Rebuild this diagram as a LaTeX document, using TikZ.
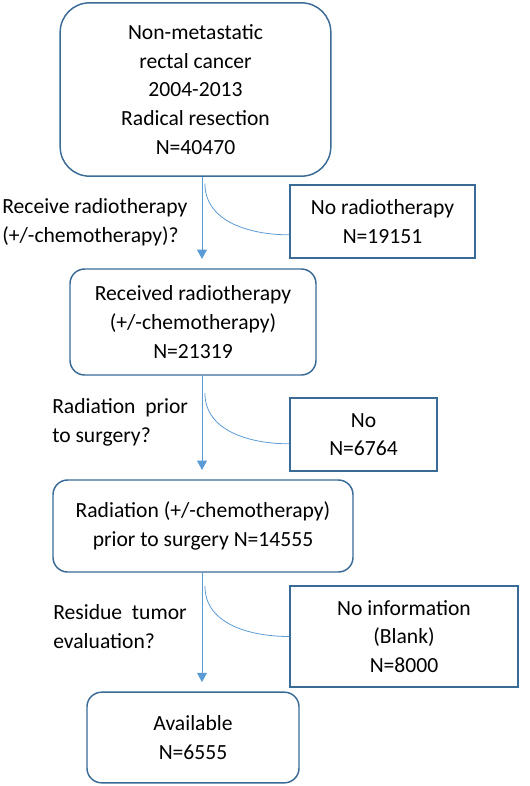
\documentclass[tikz,border=0pt]{standalone}
\usepackage{fontspec}
\setmainfont{Carlito}
\usetikzlibrary{arrows.meta}
\definecolor{boxblue}{HTML}{3A6A96}
\definecolor{lineblue}{HTML}{5B9BD5}
\tikzset{
  txt/.style={font=\fontsize{16.2}{21.5}\selectfont, align=center, inner sep=0pt},
  roundbox/.style={txt, draw=boxblue, line width=1.1pt, rounded corners=11pt},
  sidebox/.style={txt, draw=boxblue, line width=1.1pt},
  flow/.style={draw=lineblue, line width=0.6pt},
  arrflow/.style={flow, -{Triangle[width=7.5pt,length=7pt]}, shorten >=7pt}
}

\begin{document}
\begin{tikzpicture}[x=0.75pt,y=-0.75pt]
        \useasboundingbox (0,0) rectangle (529,786);
        \coordinate (spine) at (202,0);

        \node[roundbox, rounded corners=22pt, minimum width=203pt, minimum height=130pt] (start) at (195.5,89.5)
            {Non-metastatic\\rectal cancer\\2004-2013\\Radical resection\\N=40470};
        \node[roundbox, minimum width=184.5pt, minimum height=79.5pt] (rt) at (193,322)
            {Received radiotherapy\\(+/-chemotherapy)\\N=21319};
        \node[roundbox, minimum width=225pt, minimum height=69pt] (prior) at (203,526)
            {Radiation (+/-chemotherapy)\\prior to surgery N=14555};
        \node[roundbox, minimum width=159pt, minimum height=68pt] (avail) at (193,737.5)
            {Available\\N=6555};

        \node[sidebox, minimum width=138.75pt, minimum height=55pt] (nort) at (382.5,221.5)
            {No radiotherapy\\N=19151};
        \node[sidebox, minimum width=110pt, minimum height=55pt] (nopre) at (363.5,434.5)
            {No\\N=6764};
        \node[sidebox, minimum width=171pt, minimum height=76pt] (noinfo) at (404,636.5)
            {No information\\(Blank)\\N=8000};

        \node[txt, align=left, anchor=west] (q1) at (2,222)
            {Receive radiotherapy\\(+/-chemotherapy)?};
        \node[txt, align=left, anchor=west] (q2) at (52,422.5)
            {Radiation\ \ prior\\to surgery?};
        \node[txt, align=left, anchor=west] (q3) at (53,626.5)
            {Residue\ \ tumor\\evaluation?};

        \draw[arrflow] (start.south -| spine) -- (rt.north -| spine);
        \draw[arrflow] (rt.south -| spine) -- (prior.north -| spine);
        \draw[arrflow] (prior.south -| spine) -- (avail.north -| spine);

        \draw[flow] ([xshift=2.2pt,yshift=-5pt]start.south -| spine) to[out=-90,in=180] ([yshift=-10pt]nort.west);
        \draw[flow] ([xshift=2.2pt,yshift=-13pt]rt.south -| spine) to[out=-90,in=180] ([yshift=-7pt]nopre.west);
        \draw[flow] ([xshift=2.2pt,yshift=-10pt]prior.south -| spine) to[out=-90,in=180] (noinfo.west);
    \end{tikzpicture}
\end{document}
